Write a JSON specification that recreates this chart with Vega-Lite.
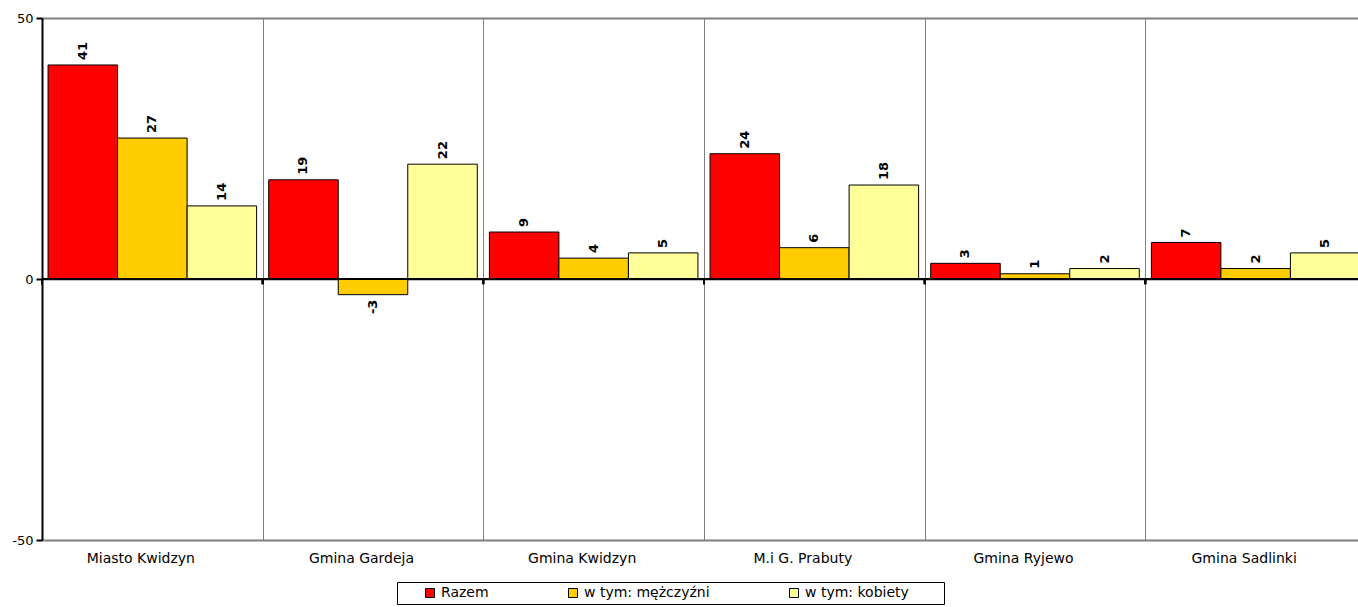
{
  "$schema": "https://vega.github.io/schema/vega-lite/v6.json",
  "width": 1324,
  "height": 522,
  "autosize": {"type": "none"},
  "padding": {"left": 42, "top": 18, "right": 0, "bottom": 67},
  "background": "white",
  "config": {
    "font": "DejaVu Sans",
    "view": {"stroke": null}
  },
  "data": {
    "values": [
      {"gmina": "Miasto Kwidzyn", "seria": "Razem", "value": 41},
      {"gmina": "Miasto Kwidzyn", "seria": "w tym: mężczyźni", "value": 27},
      {"gmina": "Miasto Kwidzyn", "seria": "w tym: kobiety", "value": 14},
      {"gmina": "Gmina Gardeja", "seria": "Razem", "value": 19},
      {"gmina": "Gmina Gardeja", "seria": "w tym: mężczyźni", "value": -3},
      {"gmina": "Gmina Gardeja", "seria": "w tym: kobiety", "value": 22},
      {"gmina": "Gmina Kwidzyn", "seria": "Razem", "value": 9},
      {"gmina": "Gmina Kwidzyn", "seria": "w tym: mężczyźni", "value": 4},
      {"gmina": "Gmina Kwidzyn", "seria": "w tym: kobiety", "value": 5},
      {"gmina": "M.i G. Prabuty", "seria": "Razem", "value": 24},
      {"gmina": "M.i G. Prabuty", "seria": "w tym: mężczyźni", "value": 6},
      {"gmina": "M.i G. Prabuty", "seria": "w tym: kobiety", "value": 18},
      {"gmina": "Gmina Ryjewo", "seria": "Razem", "value": 3},
      {"gmina": "Gmina Ryjewo", "seria": "w tym: mężczyźni", "value": 1},
      {"gmina": "Gmina Ryjewo", "seria": "w tym: kobiety", "value": 2},
      {"gmina": "Gmina Sadlinki", "seria": "Razem", "value": 7},
      {"gmina": "Gmina Sadlinki", "seria": "w tym: mężczyźni", "value": 2},
      {"gmina": "Gmina Sadlinki", "seria": "w tym: kobiety", "value": 5}
    ]
  },
  "layer": [
    {
      "mark": {"type": "bar", "stroke": "black", "strokeWidth": 1},
      "encoding": {
        "x": {
          "field": "gmina", "type": "nominal",
          "sort": ["Miasto Kwidzyn", "Gmina Gardeja", "Gmina Kwidzyn", "M.i G. Prabuty", "Gmina Ryjewo", "Gmina Sadlinki"],
          "scale": {"padding": 0},
          "axis": {
            "title": null, "labelAngle": 0, "ticks": false, "domain": false,
            "grid": true, "gridColor": "#808080", "gridWidth": 1, "tickBand": "extent",
            "labelPadding": 11, "labelFontSize": 14, "labelColor": "black", "labelOffset": -12
          }
        },
        "xOffset": {
          "field": "seria", "type": "nominal",
          "sort": ["Razem", "w tym: mężczyźni", "w tym: kobiety"],
          "scale": {"paddingInner": 0, "paddingOuter": 0.087}
        },
        "y": {
          "field": "value", "type": "quantitative",
          "scale": {"domain": [-50, 50], "nice": false},
          "axis": {
            "title": null, "values": [-50, 0, 50],
            "labelExpr": "datum.value + ''",
            "grid": true, "gridColor": "#808080", "gridWidth": 2,
            "domainColor": "black", "domainWidth": 2,
            "tickColor": "black", "tickWidth": 2, "tickSize": 6,
            "labelFontSize": 13, "labelColor": "black", "labelPadding": 3
          }
        },
        "color": {
          "field": "seria", "type": "nominal",
          "scale": {"domain": ["Razem", "w tym: mężczyźni", "w tym: kobiety"], "range": ["#FF0000", "#FFCC00", "#FFFF99"]},
          "legend": {
            "orient": "none", "legendX": 355, "legendY": 564,
            "direction": "horizontal",
            "title": "\u00a0", "titleOrient": "left", "titlePadding": 22, "titleFontSize": 13,
            "strokeColor": "black", "padding": 4,
            "symbolType": "square", "symbolSize": 81, "symbolStrokeColor": "black", "symbolStrokeWidth": 1,
            "labelFontSize": 14, "labelColor": "black", "labelOffset": 4,
            "columnPadding": 77,
            "labelExpr": "datum.label == 'w tym: kobiety' ? datum.label + '\u2800\u2800\u2800' : datum.label"
          }
        }
      }
    },
    {
      "mark": {"type": "rule", "color": "black", "strokeWidth": 2},
      "encoding": {"y": {"datum": 0}}
    },
    {
      "mark": {"type": "rule", "color": "black", "strokeWidth": 2},
      "encoding": {
        "x": {"field": "gmina", "type": "nominal", "bandPosition": 0,
              "sort": ["Miasto Kwidzyn", "Gmina Gardeja", "Gmina Kwidzyn", "M.i G. Prabuty", "Gmina Ryjewo", "Gmina Sadlinki"]},
        "y": {"datum": 0},
        "y2": {"datum": -1}
      }
    },
    {
      "transform": [{"filter": "datum.value >= 0"}],
      "mark": {"type": "text", "angle": 270, "align": "left", "baseline": "middle", "dx": 5, "fontWeight": "bold", "fontSize": 13, "color": "black"},
      "encoding": {
        "x": {"field": "gmina", "type": "nominal",
              "sort": ["Miasto Kwidzyn", "Gmina Gardeja", "Gmina Kwidzyn", "M.i G. Prabuty", "Gmina Ryjewo", "Gmina Sadlinki"]},
        "xOffset": {"field": "seria", "type": "nominal", "sort": ["Razem", "w tym: mężczyźni", "w tym: kobiety"]},
        "y": {"field": "value", "type": "quantitative"},
        "text": {"field": "value", "type": "nominal"}
      }
    },
    {
      "transform": [{"filter": "datum.value < 0"}],
      "mark": {"type": "text", "angle": 270, "align": "right", "baseline": "middle", "dx": -5, "fontWeight": "bold", "fontSize": 13, "color": "black"},
      "encoding": {
        "x": {"field": "gmina", "type": "nominal",
              "sort": ["Miasto Kwidzyn", "Gmina Gardeja", "Gmina Kwidzyn", "M.i G. Prabuty", "Gmina Ryjewo", "Gmina Sadlinki"]},
        "xOffset": {"field": "seria", "type": "nominal", "sort": ["Razem", "w tym: mężczyźni", "w tym: kobiety"]},
        "y": {"field": "value", "type": "quantitative"},
        "text": {"field": "value", "type": "nominal"}
      }
    }
  ]
}
